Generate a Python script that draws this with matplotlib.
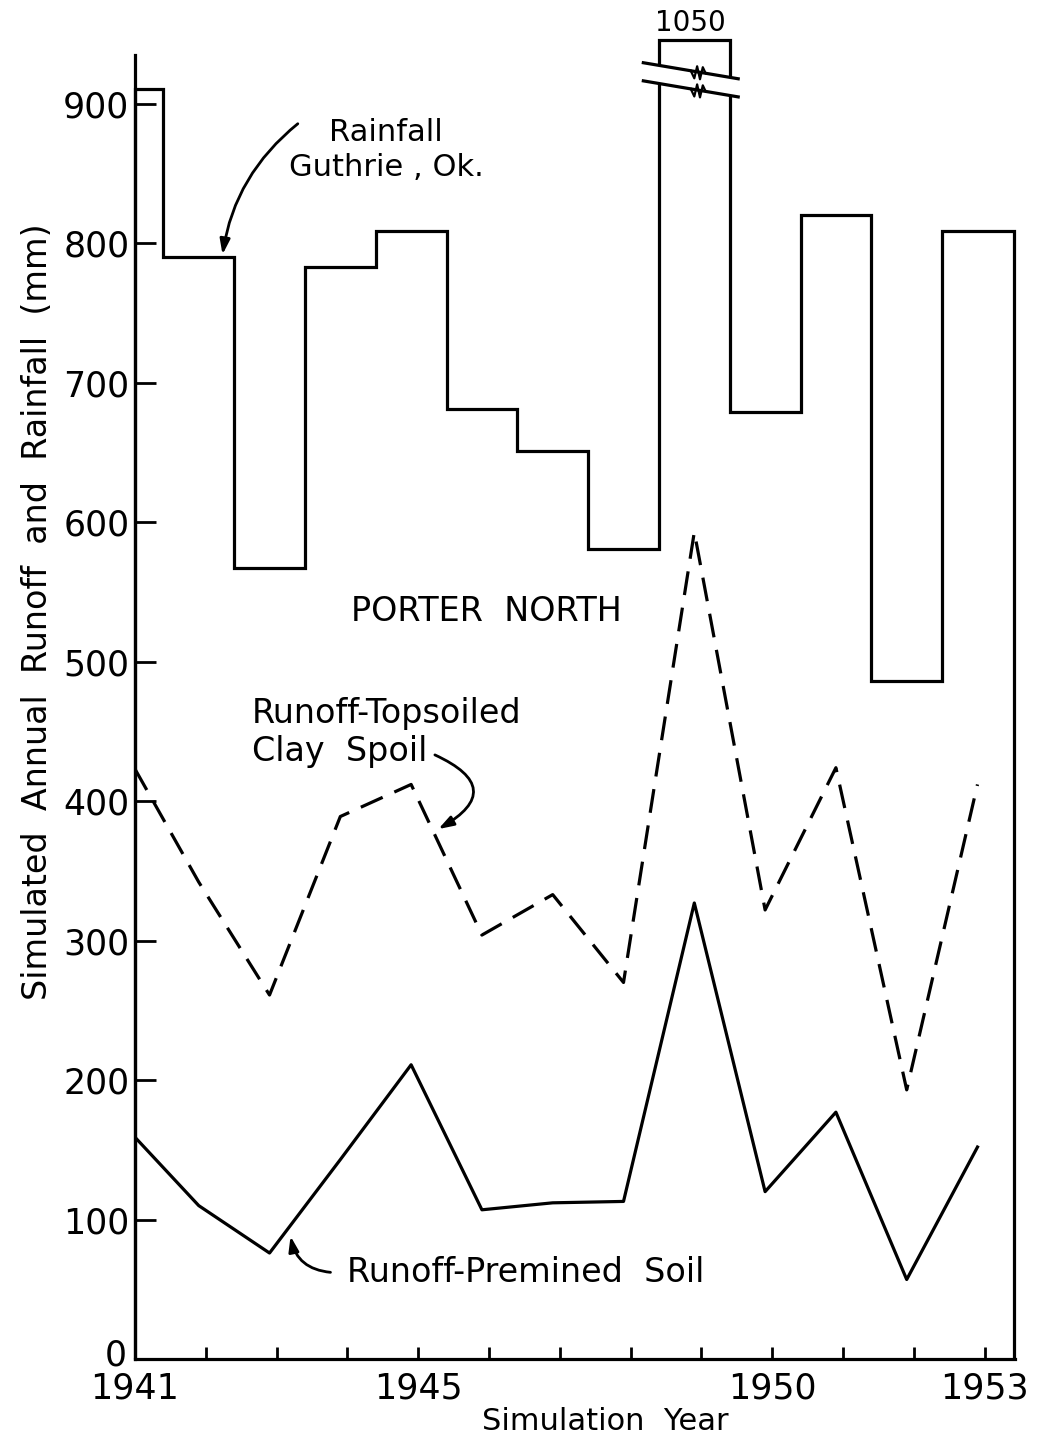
import matplotlib.pyplot as plt
import matplotlib.transforms as mtransforms
import numpy as np

# values (mm)
years = np.arange(1941, 1954)
rainfall = [911, 790, 567, 783, 809, 681, 651, 581, 1050, 679, 820, 486, 809]
runoff_topsoiled = [423, 342, 261, 389, 412, 304, 333, 270, 593, 322, 424, 193, 412]
runoff_premined = [159, 110, 76, 143, 211, 107, 112, 113, 327, 120, 177, 57, 152]
labeled_years = [1941, 1945, 1950, 1953]

# the curves sit a little left of the year ticks in the original drawing
shift = -0.1
x_pts = np.maximum(years + shift, years[0])
y_top = 935
x_right = 1953.43
lw = 2.3

plt.rcParams['font.family'] = 'DejaVu Sans'

fig = plt.figure(figsize=(10.37, 14.49), dpi=100)
ax = fig.add_axes([0.1302, 0.0621, 0.8486, 0.8999])

# rainfall as steps, the 1949 bar is cut off above the axis
edges = np.append(years[0], years + shift + 0.5)
edges[-1] = x_right - 0.02
rain_shown = np.minimum(rainfall, y_top + 11)
ax.stairs(rain_shown, edges, baseline=0, color='black', linewidth=lw, clip_on=False, zorder=3)

# axis break marks on the tall bar
i_big = int(np.argmax(rainfall))
xc = years[i_big] + shift
bx = np.array([xc - 0.72, xc + 0.62])
top_line = np.array([929.5, 918])
bot_line = np.array([916.5, 905])
ax.fill_between(bx, bot_line, top_line, color='white', clip_on=False, zorder=4)
zx = xc + np.array([-0.05, 0.0, 0.04, 0.08, 0.12, 0.16])
for line in (top_line, bot_line):
    ax.plot(bx, line, color='black', lw=lw, clip_on=False, zorder=5)
    base = np.interp(zx, bx, line)
    ax.plot(zx, base + np.array([0, -5, 4, -5, 4, 0]), color='black', lw=1.6,
            clip_on=False, zorder=5)
ax.text(xc - 0.05, 958, str(rainfall[i_big]), ha='center', va='center',
        fontsize=20)

# runoff curves
ax.plot(x_pts, runoff_topsoiled, color='black', lw=lw, linestyle=(0, (7.5, 4)))
ax.plot(x_pts, runoff_premined, color='black', lw=lw)

# labels and arrows
arrow_kw = dict(arrowstyle='-|>,head_length=0.9,head_width=0.3', color='black', lw=2)
ax.text(1944.55, 867, 'Rainfall\nGuthrie , Ok.', ha='center', va='center',
        fontsize=22, linespacing=1.25)
ax.annotate('', xy=(1942.23, 790), xytext=(1943.33, 887),
            arrowprops=dict(connectionstyle='arc3,rad=0.2', **arrow_kw))

ax.text(1945.96, 536, 'PORTER  NORTH', ha='center', va='center', fontsize=24)

ax.text(1942.65, 449, 'Runoff-Topsoiled\nClay  Spoil', ha='left', va='center',
        fontsize=24, linespacing=1.2)
ax.annotate('', xy=(1945.25, 379), xytext=(1945.2, 434),
            arrowprops=dict(connectionstyle='arc3,rad=-1.0', **arrow_kw))

ax.text(1944.0, 62, 'Runoff-Premined  Soil', ha='left', va='center', fontsize=24)
ax.annotate('', xy=(1943.19, 90), xytext=(1943.8, 62),
            arrowprops=dict(connectionstyle='arc3,rad=-0.4', **arrow_kw))

# axes
ax.set_xlim(1941, x_right)
ax.set_ylim(0, y_top)
ax.set_xticks(years)
ax.set_xticklabels([str(y) if y in labeled_years else '' for y in years])
ax.set_yticks(np.arange(0, 901, 100))
ax.tick_params(axis='y', direction='in', length=15, width=2, labelsize=25, pad=4)
ax.tick_params(axis='x', direction='in', length=9, width=2, labelsize=25, pad=9)
for s in ('top', 'right'):
    ax.spines[s].set_visible(False)
for s in ('left', 'bottom'):
    ax.spines[s].set_linewidth(lw)

# the "0" sits a bit higher than the other labels in the original
fig.canvas.draw()
zero = ax.get_yticklabels()[0]
zero.set_transform(zero.get_transform() + mtransforms.ScaledTranslation(-2 / 72, 5 / 72, fig.dpi_scale_trans))

ax.set_xlabel('Simulation  Year', fontsize=22)
ax.xaxis.set_label_coords(0.534, -0.037)
ax.set_ylabel('Simulated  Annual  Runoff  and  Rainfall  (mm)', fontsize=24)
ax.yaxis.set_label_coords(-0.092, 0.573)

fig.savefig('out.png', dpi=100)
